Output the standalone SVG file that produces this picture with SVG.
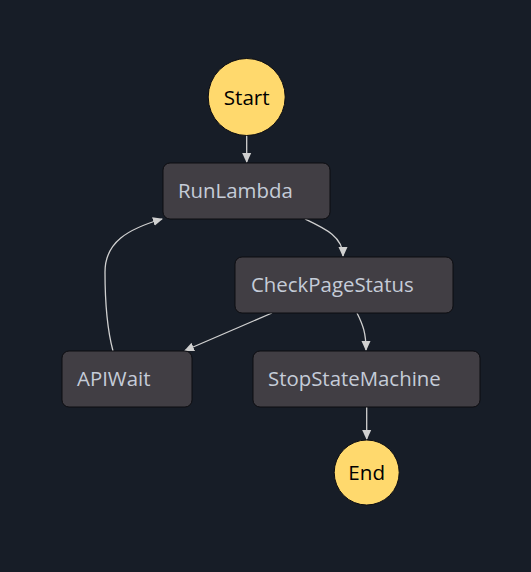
<svg xmlns="http://www.w3.org/2000/svg" width="531" height="572" viewBox="0 0 531 572">
<defs>
<marker id="arr" markerWidth="10" markerHeight="10" refX="9" refY="5" orient="auto" markerUnits="userSpaceOnUse" viewBox="0 0 10 10">
<path d="M0,0.5 L10,5 L0,9.5 Z" fill="#d0d0d0"/>
</marker>
<style>
.box{fill:#413e44;stroke:#0c0c10;stroke-width:1}
.lbl{font-family:"Open Sans","Noto Sans",sans-serif;font-size:20.4px;fill:#c5ccd8}
.circ{fill:#ffd96d;stroke:#0c0c10;stroke-width:1}
.clbl{font-family:"Open Sans","Noto Sans",sans-serif;font-size:20.6px;fill:#000;text-anchor:middle}
.edge{fill:none;stroke:#d0d0d0;stroke-width:1.3;marker-end:url(#arr)}
</style>
</defs>
<rect width="531" height="572" fill="#171d27"/>
<g id="connectors">
<path class="edge" d="M246.7,135 L246.7,162"/>
<path class="edge" d="M305,219 C326,229 343,237 343,256"/>
<path class="edge" d="M272,313 L185,350.5"/>
<path class="edge" d="M357,313 C363,325 366,333 366,350"/>
<path class="edge" d="M113,351 C106,325 105,295 105,272 C105,242 128,229 162,219"/>
<path class="edge" d="M366.7,407 L366.7,439"/>
</g>
<g id="Start">
<circle class="circ" cx="246.7" cy="97" r="38.5"/>
<text class="clbl" x="246.7" y="104.5">Start</text>
</g>
<g id="RunLambda">
<rect class="box" x="163" y="163" width="167" height="56" rx="7"/>
<text class="lbl" x="178" y="197.5">RunLambda</text>
</g>
<g id="CheckPageStatus">
<rect class="box" x="235" y="257" width="218" height="56" rx="7"/>
<text class="lbl" x="251" y="291.5">CheckPageStatus</text>
</g>
<g id="APIWait">
<rect class="box" x="62" y="351" width="130" height="56" rx="7"/>
<text class="lbl" x="77" y="385.5">APIWait</text>
</g>
<g id="StopStateMachine">
<rect class="box" x="253" y="351" width="227" height="56" rx="7"/>
<text class="lbl" x="268" y="385.5">StopStateMachine</text>
</g>
<g id="End">
<circle class="circ" cx="366.7" cy="472.5" r="32.5"/>
<text class="clbl" x="366.7" y="479.5">End</text>
</g>
</svg>
